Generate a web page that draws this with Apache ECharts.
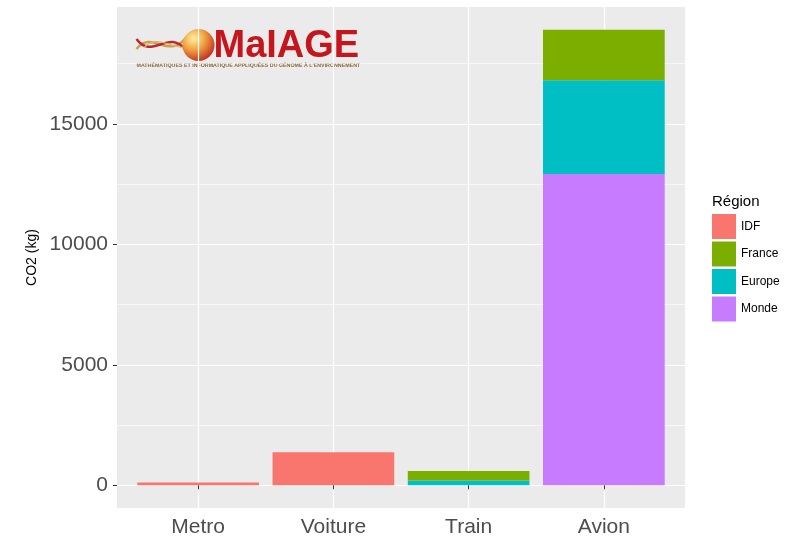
<!DOCTYPE html>
<html>
<head>
<meta charset="utf-8">
<script src="https://cdn.jsdelivr.net/npm/echarts@6/dist/echarts.min.js"></script>
<style>
  html, body { margin: 0; padding: 0; background: #ffffff; }
  #chart { width: 786px; height: 536px; }
</style>
</head>
<body>
<div id="chart"></div>
<script>
// data
const categories = ['Metro', 'Voiture', 'Train', 'Avion'];
const regions = ['IDF', 'France', 'Europe', 'Monde'];
const idf = [110, 1370, 0, 0];
const france = [0, 0, 400, 2100];
const europe = [0, 0, 195, 3890];
const monde = [0, 0, 0, 12920];
const yMajorTicks = [0, 5000, 10000, 15000];
const yMinorTicks = [2500, 7500, 12500, 17500];

const colors = { IDF: '#F8766D', France: '#7CAE00', Europe: '#00BFC4', Monde: '#C77CFF' };
const font = 'Liberation Sans, Arial, sans-serif';

// ggplot style expansion: 5% on the value axis, 0.6 on the discrete axis
const yMax = 18907 + 945;
const yMin = -945;
const catPos = categories.map((c, i) => i + 1);

// panel and the inner band area used by the category axis
const panel = { left: 117, right: 685, top: 7, bottom: 508 };
const unit = (panel.right - panel.left) / (categories.length - 1 + 1.2);
const chartW = 786, chartH = 536;

const chart = echarts.init(document.getElementById('chart'));

// bottom of the stack first (ggplot stacks the first level on top)
const stackOrder = [
  { name: 'Monde', data: monde },
  { name: 'Europe', data: europe },
  { name: 'France', data: france },
  { name: 'IDF', data: idf }
];

const option = {
  animation: false,
  backgroundColor: '#ffffff',
  grid: [{
    // visible panel with grid lines
    left: panel.left,
    right: chartW - panel.right,
    top: panel.top,
    bottom: chartH - panel.bottom,
    outerBoundsMode: 'none',
    show: true,
    backgroundColor: '#EBEBEB',
    borderWidth: 0
  }, {
    // bars: category bands inset by the 0.6 expansion
    left: panel.left + 0.1 * unit,
    right: chartW - panel.right + 0.1 * unit,
    top: panel.top,
    bottom: chartH - panel.bottom,
    outerBoundsMode: 'none',
    show: false
  }],
  title: {
    text: 'Région',
    left: 712,
    top: 194,
    padding: 0,
    textStyle: { fontFamily: font, fontSize: 15, fontWeight: 'normal', color: '#000' }
  },
  legend: {
    data: regions,
    orient: 'vertical',
    left: 712,
    top: 214,
    padding: 0,
    itemWidth: 24,
    itemHeight: 25,
    itemGap: 2.5,
    icon: 'rect',
    textStyle: { fontFamily: font, fontSize: 12, color: '#000' }
  },
  xAxis: [{
    gridIndex: 0,
    type: 'value',
    min: 0.4,
    max: 4.6,
    axisLine: { show: false },
    axisTick: { show: true, length: 4, customValues: catPos, lineStyle: { color: '#333', width: 1 } },
    axisLabel: {
      customValues: catPos,
      margin: 9,
      fontFamily: font,
      fontSize: 21,
      color: '#4d4d4d',
      formatter: v => categories[Math.round(v) - 1] || ''
    },
    splitLine: { show: true, lineStyle: { color: '#ffffff', width: 1.2 } }
  }, {
    gridIndex: 1,
    type: 'category',
    data: categories,
    show: false
  }],
  yAxis: [{
    gridIndex: 0,
    type: 'value',
    min: yMin,
    max: yMax,
    name: 'CO2 (kg)',
    nameLocation: 'middle',
    nameRotate: 90,
    nameGap: 78,
    nameTextStyle: { fontFamily: font, fontSize: 14, color: '#000' },
    axisLine: { show: false },
    axisTick: { show: true, length: 4, customValues: yMajorTicks, lineStyle: { color: '#333', width: 1 } },
    axisLabel: {
      customValues: yMajorTicks,
      margin: 9,
      fontFamily: font,
      fontSize: 21,
      color: '#4d4d4d',
      formatter: v => String(v)
    },
    splitLine: { show: true, lineStyle: { color: '#ffffff', width: 1.2 } }
  }, {
    gridIndex: 0,
    type: 'value',
    min: yMin,
    max: yMax,
    position: 'left',
    axisLine: { show: false },
    axisTick: { show: false, customValues: yMinorTicks },
    axisLabel: { show: false, customValues: yMinorTicks },
    splitLine: { show: true, lineStyle: { color: '#ffffff', width: 0.6 } }
  }, {
    gridIndex: 1,
    type: 'value',
    min: yMin,
    max: yMax,
    show: false,
    splitLine: { show: false }
  }],
  series: stackOrder.map(s => ({
    name: s.name,
    type: 'bar',
    stack: 'co2',
    xAxisIndex: 1,
    yAxisIndex: 2,
    barWidth: '90%',
    data: s.data,
    itemStyle: { color: colors[s.name] },
    z: 3
  })),
  graphic: [{
    type: 'group',
    left: 134,
    top: 28,
    z: 10,
    children: [
      // DNA strands
      {
        type: 'bezierCurve',
        shape: { x1: 2, y1: 22, x2: 52, y2: 10, cpx1: 18, cpy1: 2, cpx2: 34, cpy2: 34 },
        style: { stroke: '#c9a14a', lineWidth: 2.5, fill: null }
      },
      {
        type: 'bezierCurve',
        shape: { x1: 2, y1: 12, x2: 52, y2: 24, cpx1: 18, cpy1: 34, cpx2: 34, cpy2: 0 },
        style: { stroke: '#c0272d', lineWidth: 2.5, fill: null }
      },
      {
        type: 'bezierCurve',
        shape: { x1: 10, y1: 20, x2: 60, y2: 16, cpx1: 26, cpy1: 4, cpx2: 44, cpy2: 30 },
        style: { stroke: '#d8b870', lineWidth: 1.2, fill: null }
      },
      // globe
      {
        type: 'circle',
        shape: { cx: 64, cy: 18, r: 16 },
        style: {
          fill: {
            type: 'radial', x: 0.35, y: 0.3, r: 0.8,
            colorStops: [
              { offset: 0, color: '#fff3a0' },
              { offset: 0.45, color: '#f0a040' },
              { offset: 1, color: '#b81e20' }
            ]
          }
        }
      },
      {
        type: 'text',
        left: 79,
        top: 1,
        style: {
          text: 'MaIAGE',
          fontFamily: 'Liberation Sans, Arial, sans-serif',
          fontSize: 38,
          fontWeight: 'bold',
          fill: '#c4161c',
          shadowColor: 'rgba(0,0,0,0.25)',
          shadowOffsetX: 1,
          shadowOffsetY: 1,
          shadowBlur: 1
        }
      },
      {
        type: 'text',
        left: 2,
        top: 36,
        style: {
          text: 'MATHÉMATIQUES ET INFORMATIQUE APPLIQUÉES DU GÉNOME À L\'ENVIRONNEMENT',
          fontFamily: 'Liberation Sans, Arial, sans-serif',
          fontSize: 5.3,
          fontWeight: 'bold',
          fill: '#8c6a3a'
        }
      }
    ]
  }]
};

chart.setOption(option);
</script>
</body>
</html>
